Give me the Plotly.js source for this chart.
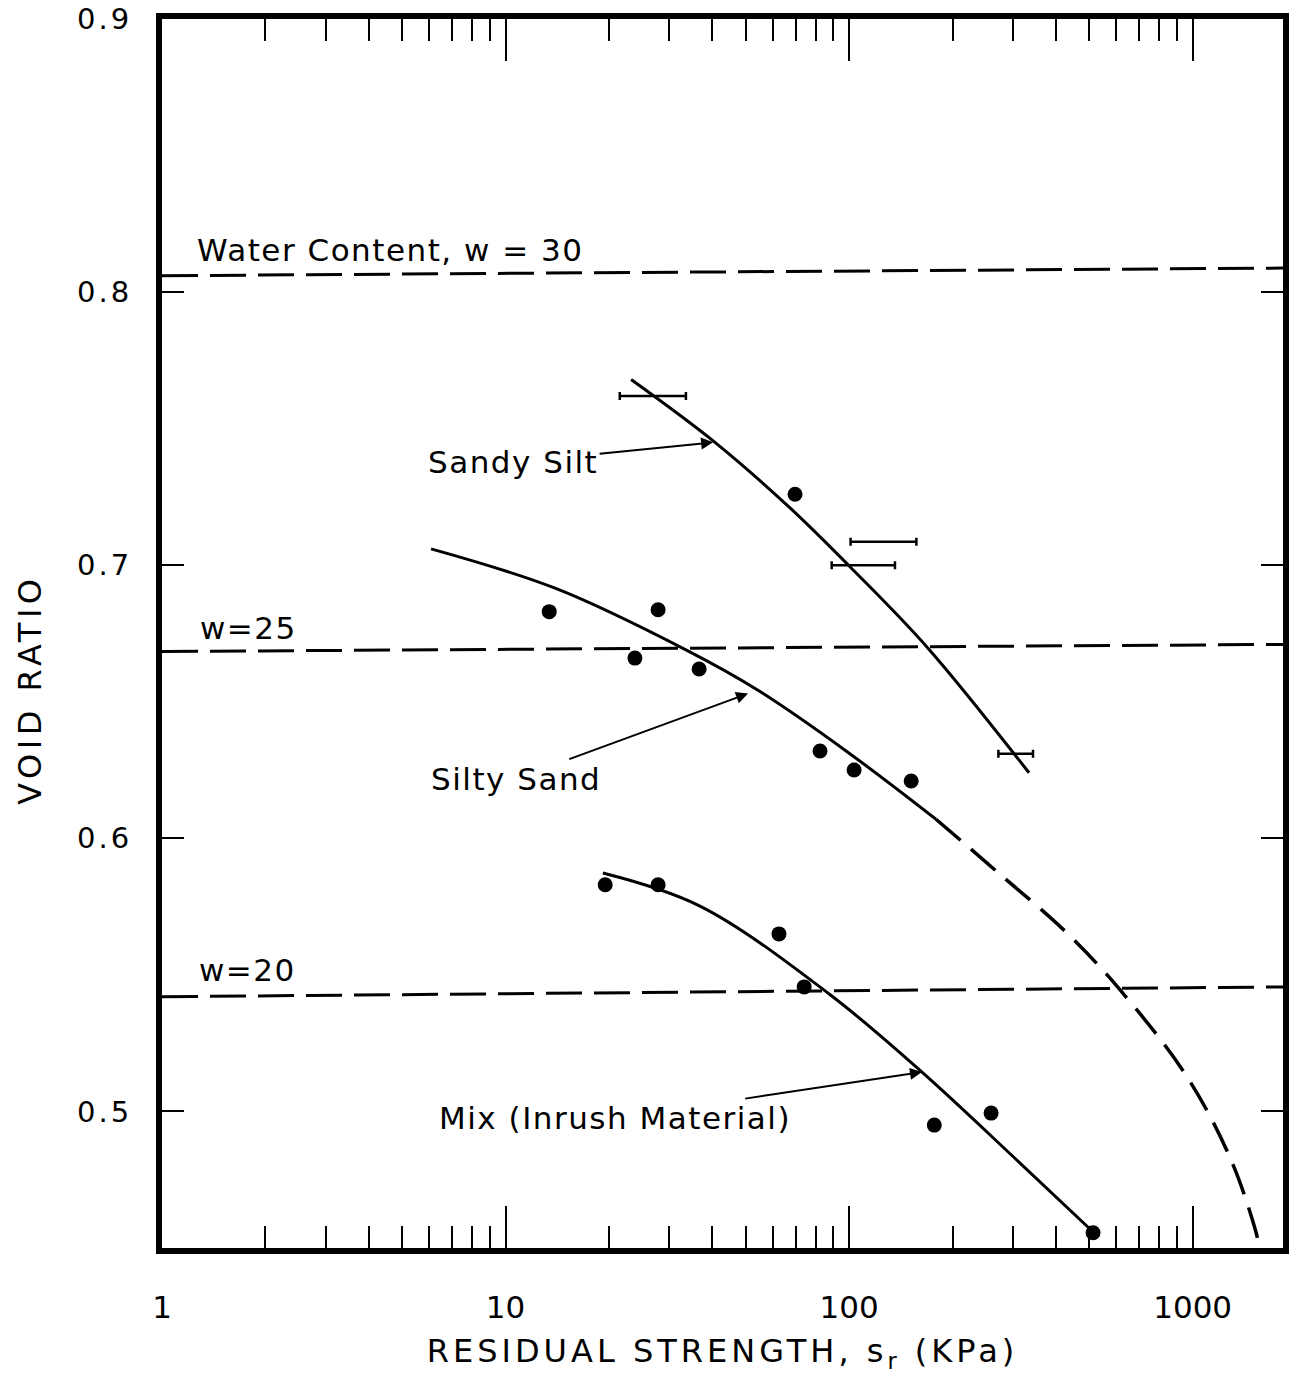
<!DOCTYPE html>
<html><head><meta charset="utf-8">
<script src="https://cdn.plot.ly/plotly-3.0.1.min.js"></script>
<style>
body{margin:0;background:#fff}
#chart{width:1295px;height:1374px}
.xtitle{letter-spacing:4px}
.ytick text{letter-spacing:3px}
.annotation-text{letter-spacing:1.5px}
</style></head><body><div id="chart"></div>
<script>
// ---- data ----
const sandySiltCurveX = [23.2, 40.7, 67.3, 101.4, 168.7, 334];
const sandySiltCurveY = [0.768, 0.745, 0.721, 0.699, 0.670, 0.624];
const sandySiltPointX = [69.6];
const sandySiltPointY = [0.726];
const sandySiltRangeLow = [21.5, 101, 89, 272];
const sandySiltRangeHigh = [33.5, 157, 136, 343];
const sandySiltRangeY = [0.762, 0.7086, 0.700, 0.631];

const siltySandCurveX = [6.07, 14.0, 33.5, 54.0, 98, 179];
const siltySandCurveY = [0.706, 0.6915, 0.669, 0.6544, 0.632, 0.607];
const siltySandExtX = [179, 270, 431, 615, 964, 1294, 1531, 1563];
const siltySandExtY = [0.607, 0.5877, 0.5653, 0.5445, 0.5126, 0.4822, 0.4555, 0.45];
const siltySandPointX = [13.4, 27.8, 23.8, 36.6, 82.3, 103.4, 151.6];
const siltySandPointY = [0.683, 0.6837, 0.666, 0.662, 0.632, 0.625, 0.621];

const mixCurveX = [19.2, 36.8, 87.5, 163, 315, 517];
const mixCurveY = [0.5873, 0.5752, 0.543, 0.5144, 0.481, 0.4555];
const mixPointX = [19.5, 27.8, 62.5, 74.0, 177, 259, 513];
const mixPointY = [0.583, 0.583, 0.565, 0.5456, 0.495, 0.4994, 0.4556];

const waterLineX = [1, 1835];
const w30Y = [0.806, 0.8088];
const w25Y = [0.6684, 0.671];
const w20Y = [0.542, 0.5456];

const waterLabels = ['Water Content, w = 30', 'w=25', 'w=20'];
const waterLabelX = [1.25, 1.27, 1.265];
const waterLabelY = [0.8155, 0.677, 0.5518];

const curveLabels = ['Sandy Silt', 'Silty Sand', 'Mix (Inrush Material)'];
const curveArrowX = [40.2, 50.8, 163];
const curveArrowY = [0.745, 0.653, 0.5144];

const xTickVals = [1, 10, 100, 1000];
const xTickText = ['1', '10', '100', '1000'];
const xMinorVals = [2,3,4,5,6,7,8,9,20,30,40,50,60,70,80,90,200,300,400,500,600,700,800,900];
const yTickVals = [0.5, 0.6, 0.7, 0.8, 0.9];
const yTickText = ['0.5', '0.6', '0.7', '0.8', '0.9'];
const xTitle = 'RESIDUAL STRENGTH, s<sub>r</sub> (KPa)';
const yTitle = 'VOID RATIO';

// ---- traces ----
const black = '#000';
const rangeCenter = sandySiltRangeLow.map((lo, i) => Math.sqrt(lo * sandySiltRangeHigh[i]));
const traces = [
  {x: waterLineX, y: w30Y, mode: 'lines', line: {color: black, width: 3, dash: '36px,12px'}},
  {x: waterLineX, y: w25Y, mode: 'lines', line: {color: black, width: 3, dash: '36px,12px'}},
  {x: waterLineX, y: w20Y, mode: 'lines', line: {color: black, width: 3, dash: '36px,12px'}},
  {x: sandySiltCurveX, y: sandySiltCurveY, mode: 'lines', line: {color: black, width: 3, shape: 'spline'}},
  {x: siltySandCurveX, y: siltySandCurveY, mode: 'lines', line: {color: black, width: 3, shape: 'spline'}},
  {x: siltySandExtX, y: siltySandExtY, mode: 'lines', line: {color: black, width: 3.5, shape: 'spline', dash: '32px,14px'}},
  {x: mixCurveX, y: mixCurveY, mode: 'lines', line: {color: black, width: 3, shape: 'spline'}},
  {x: rangeCenter, y: sandySiltRangeY, mode: 'markers', marker: {size: 1, color: 'rgba(0,0,0,0)'},
   error_x: {type: 'data', symmetric: false,
     array: sandySiltRangeHigh.map((h, i) => h - rangeCenter[i]),
     arrayminus: sandySiltRangeLow.map((l, i) => rangeCenter[i] - l),
     color: black, thickness: 2.5, width: 4}},
  {x: sandySiltPointX, y: sandySiltPointY, mode: 'markers', marker: {size: 15, color: black}},
  {x: siltySandPointX, y: siltySandPointY, mode: 'markers', marker: {size: 15, color: black}},
  {x: mixPointX, y: mixPointY, mode: 'markers', marker: {size: 15, color: black}}
];

const font = 'DejaVu Sans, sans-serif';
const annotations = [];
waterLabels.forEach((t, i) => annotations.push({
  x: Math.log10(waterLabelX[i]), y: waterLabelY[i], xref: 'x', yref: 'y',
  text: t, showarrow: false, xanchor: 'left', yanchor: 'middle',
  font: {family: font, size: 31, color: black}
}));
const tailOffsets = [[-200, 20], [-232, 85], [-307, 46]];
curveLabels.forEach((t, i) => annotations.push({
  x: Math.log10(curveArrowX[i]), y: curveArrowY[i], xref: 'x', yref: 'y',
  text: t, showarrow: true, arrowhead: 2, arrowsize: 1.2, arrowwidth: 2, arrowcolor: black,
  ax: tailOffsets[i][0], ay: tailOffsets[i][1], standoff: 0,
  font: {family: font, size: 31, color: black}
}));
// y-axis title (placed off-centre, as in the reference)
annotations.push({
  xref: 'paper', yref: 'paper', x: -0.118, y: 0.454, xanchor: 'center', yanchor: 'middle',
  text: '<span style="letter-spacing:4.5px">' + yTitle + '</span>', textangle: -90, showarrow: false,
  font: {family: font, size: 32, color: black}
});

const layout = {
  width: 1295, height: 1374,
  margin: {l: 162, r: 12, t: 19, b: 126},
  paper_bgcolor: '#fff', plot_bgcolor: '#fff',
  showlegend: false,
  font: {family: font, color: black},
  xaxis: {
    type: 'log', range: [0, 3.263],
    tickmode: 'array', tickvals: xTickVals, ticktext: xTickText,
    ticks: 'inside', ticklen: 42, tickwidth: 2, tickcolor: black,
    minor: {tickmode: 'array', tickvals: xMinorVals, ticks: 'inside', ticklen: 22, tickwidth: 2, tickcolor: black, showgrid: false},
    showline: true, linewidth: 6, linecolor: black, mirror: 'ticks',
    showgrid: false, zeroline: false,
    tickfont: {family: font, size: 31, color: black},
    ticklabelstandoff: 27,
    title: {text: xTitle, font: {family: font, size: 32, color: black}, standoff: 20}
  },
  yaxis: {
    range: [0.45, 0.9],
    tickmode: 'array', tickvals: yTickVals, ticktext: yTickText,
    ticks: 'inside', ticklen: 22, tickwidth: 2, tickcolor: black,
    showline: true, linewidth: 6, linecolor: black, mirror: 'ticks',
    showgrid: false, zeroline: false,
    tickfont: {family: font, size: 29, color: black},
    ticklabelstandoff: 18
  },
  annotations: annotations
};

Plotly.newPlot('chart', traces, layout, {staticPlot: true});
</script></body></html>
